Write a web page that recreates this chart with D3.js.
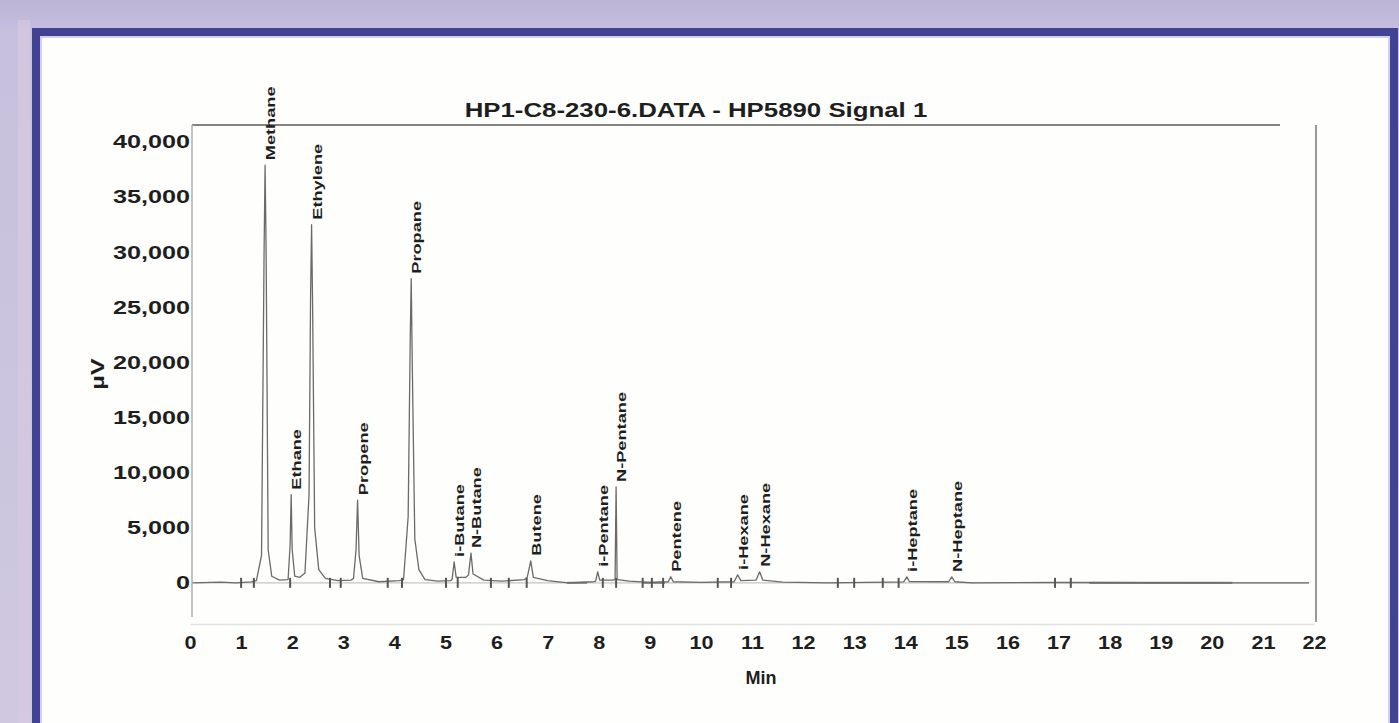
<!DOCTYPE html>
<html>
<head>
<meta charset="utf-8">
<script src="https://cdn.jsdelivr.net/npm/d3@7"></script>
<style>
  html, body { margin: 0; padding: 0; overflow: hidden; background: #c9c2dd; }
  svg { display: block; }
  text { font-family: "Liberation Sans", Arial, sans-serif; font-weight: bold; fill: #1e1e1e; }
</style>
</head>
<body>
<svg id="chart" width="1399" height="723"></svg>
<script>
// ---- chromatogram data -------------------------------------------------
const chartTitle = "HP1-C8-230-6.DATA - HP5890 Signal 1";
const xLabel = "Min";
const yLabel = "µV";

const xTickValues = [0, 1, 2, 3, 4, 5, 6, 7, 8, 9, 10, 11, 12, 13, 14, 15, 16, 17, 18, 19, 20, 21, 22];
const yTickValues = [0, 5000, 10000, 15000, 20000, 25000, 30000, 35000, 40000];

// identified peaks: name, retention time (min), apex height (µV)
const peakNames   = ["Methane", "Ethane", "Ethylene", "Propene", "Propane", "i-Butane", "N-Butane", "Butene",
                     "i-Pentane", "N-Pentane", "Pentene", "i-Hexane", "N-Hexane", "i-Heptane", "N-Heptane"];
const peakTimes   = [1.47, 1.98, 2.38, 3.28, 4.33, 5.17, 5.50, 6.67, 7.98, 8.34, 9.41, 10.72, 11.15, 14.03, 14.91];
const peakHeights = [37900, 8000, 32500, 7500, 27600, 1900, 2700, 2000, 1000, 8700, 550, 720, 1000, 540, 540];

// detector signal: [time (min), µV]
const signal = [
  [0.05, 0], [0.60, 60], [0.90, 0], [1.20, 80], [1.30, 200], [1.40, 2500], [1.45, 30000], [1.47, 37900],
  [1.49, 30000], [1.53, 3000], [1.60, 600], [1.75, 250], [1.92, 300], [1.96, 3500], [1.98, 8000],
  [2.00, 3000], [2.05, 600], [2.15, 500], [2.25, 900], [2.33, 8000], [2.36, 26000], [2.38, 32500],
  [2.40, 25000], [2.44, 5000], [2.52, 1200], [2.65, 400], [2.90, 200], [3.15, 250], [3.20, 400],
  [3.25, 3000], [3.28, 7500], [3.31, 2500], [3.38, 400], [3.70, 100], [4.10, 200], [4.18, 300],
  [4.27, 6000], [4.31, 22000], [4.33, 27600], [4.35, 20000], [4.40, 4000], [4.48, 1200], [4.60, 300],
  [4.85, 150], [5.10, 200], [5.13, 300], [5.17, 1900], [5.21, 500], [5.40, 500], [5.45, 700],
  [5.50, 2700], [5.54, 800], [5.75, 250], [6.10, 150], [6.55, 300], [6.60, 500], [6.67, 2000],
  [6.72, 500], [7.00, 200], [7.40, 0], [7.90, 100], [7.94, 150], [7.98, 1000], [8.02, 250],
  [8.28, 250], [8.32, 300], [8.34, 8700], [8.36, 300], [8.60, 150], [9.00, 50], [9.36, 100],
  [9.41, 550], [9.46, 100], [10.00, 50], [10.65, 100], [10.72, 720], [10.78, 200], [11.08, 250],
  [11.15, 1000], [11.21, 250], [11.60, 60], [12.50, 0], [13.97, 80], [14.03, 540], [14.08, 120],
  [14.85, 100], [14.91, 540], [14.97, 100], [15.30, 0], [17.00, 30], [20.50, 0], [21.90, 0]
];

// integration event marks on the baseline (min)
const eventMarks = [1.00, 1.25, 1.96, 2.74, 2.95, 3.87, 4.15, 5.01, 5.24, 5.89, 6.24, 6.59,
                    8.08, 8.34, 8.86, 9.04, 9.26, 10.33, 10.59, 12.68, 13.00, 13.56, 13.87, 16.93, 17.24];
// baseline-drawn segments (min)
const baselineRuns = [[7.38, 7.77], [8.86, 9.30], [17.6, 20.4]];

// ---- layout ---------------------------------------------------------------
const svg = d3.select("#chart");

// page backdrop and framed panel
const defs = svg.append("defs");
const bg = defs.append("linearGradient").attr("id", "bgGrad").attr("x1", 0).attr("y1", 0).attr("x2", 0).attr("y2", 1);
bg.append("stop").attr("offset", "0%").attr("stop-color", "#c7c0dc");
bg.append("stop").attr("offset", "100%").attr("stop-color", "#cfc8e0");
svg.append("rect").attr("width", 1399).attr("height", 723).attr("fill", "url(#bgGrad)");
const topBand = defs.append("linearGradient").attr("id", "topBand").attr("x1", 0).attr("y1", 0).attr("x2", 0).attr("y2", 1);
topBand.append("stop").attr("offset", "0%").attr("stop-color", "#bdb5d4");
topBand.append("stop").attr("offset", "100%").attr("stop-color", "#c3bde0");
svg.append("rect").attr("x", 0).attr("y", 0).attr("width", 1399).attr("height", 29).attr("fill", "url(#topBand)");
svg.append("rect").attr("x", 18).attr("y", 20).attr("width", 12).attr("height", 703).attr("fill", "#d6c9df").attr("opacity", 0.7);

svg.append("rect").attr("x", 32).attr("y", 28).attr("width", 1366).attr("height", 720).attr("fill", "#3f4392");
svg.append("rect").attr("x", 40).attr("y", 36).attr("width", 1350).attr("height", 700).attr("fill", "#cfd0f2");
svg.append("rect").attr("x", 42).attr("y", 38).attr("width", 1346).attr("height", 700).attr("fill", "#fefefc");

// scales
const x = d3.scaleLinear().domain([0, 22]).range([190, 1314]);
const y = d3.scaleLinear().domain([-3100, 41550]).range([617, 125]);

// stretch helper: widen text to the look of the printed report font
function widen(sel, k) {
  sel.each(function () {
    const w = this.getComputedTextLength();
    this.setAttribute("textLength", w * k);
    this.setAttribute("lengthAdjust", "spacingAndGlyphs");
  });
}

// plot frame
const frame = svg.append("g");
frame.append("line").attr("x1", 192).attr("x2", 1280).attr("y1", y(41550)).attr("y2", y(41550))
  .attr("stroke", "#5a5a5a").attr("stroke-width", 1.6);
frame.append("line").attr("x1", 192).attr("x2", 192).attr("y1", y(41550)).attr("y2", y(-3100))
  .attr("stroke", "#b4b4b4").attr("stroke-width", 1.6);
frame.append("line").attr("x1", 1316).attr("x2", 1316).attr("y1", y(41550)).attr("y2", 622)
  .attr("stroke", "#6e6e6e").attr("stroke-width", 1.4);

// y axis
const yAxis = svg.append("g").attr("transform", "translate(192,0)")
  .call(d3.axisLeft(y).tickValues(yTickValues).tickSize(0).tickPadding(2).tickFormat(d3.format(",")));
yAxis.select(".domain").remove();
yAxis.selectAll("text").style("font-size", "18px").attr("font-family", null).attr("font-size", null);
widen(yAxis.selectAll("text"), 1.4);

// x axis
const xAxis = svg.append("g").attr("transform", "translate(0,624)")
  .call(d3.axisBottom(x).tickValues(xTickValues).tickSize(0).tickPadding(12).tickFormat(d3.format("d")));
xAxis.select(".domain").attr("stroke", "#e2e2e2").attr("stroke-width", 1.5);
xAxis.selectAll("text").style("font-size", "18px").attr("font-family", null).attr("font-size", null);
widen(xAxis.selectAll("text"), 1.2);

// titles
const t = svg.append("text").attr("x", 696).attr("y", 117).attr("text-anchor", "middle")
  .style("font-size", "20px").text(chartTitle);
widen(t, 1.29);
svg.append("text").attr("x", 761).attr("y", 684).attr("text-anchor", "middle")
  .style("font-size", "18px").text(xLabel);
const yl = svg.append("text").attr("transform", "translate(104,374) rotate(-90)").attr("text-anchor", "middle")
  .style("font-size", "18px").text(yLabel);
widen(yl, 1.4);

// baseline
svg.append("line").attr("x1", x(0.1)).attr("x2", x(21.9)).attr("y1", y(0)).attr("y2", y(0))
  .attr("stroke", "#c4c4c4").attr("stroke-width", 1.2);
svg.append("g").selectAll("line").data(baselineRuns).join("line")
  .attr("x1", d => x(d[0])).attr("x2", d => x(d[1])).attr("y1", y(0)).attr("y2", y(0))
  .attr("stroke", "#8a8a8a").attr("stroke-width", 2.2);

// signal trace
const line = d3.line().x(d => x(d[0])).y(d => y(d[1]));
svg.append("path").datum(signal).attr("d", line)
  .attr("fill", "none").attr("stroke", "#6a6a6a").attr("stroke-width", 1.3).attr("stroke-linejoin", "round");

// event marks
svg.append("g").selectAll("line").data(eventMarks).join("line")
  .attr("x1", d => x(d)).attr("x2", d => x(d)).attr("y1", y(0) - 5).attr("y2", y(0) + 5)
  .attr("stroke", "#555").attr("stroke-width", 2);

// peak labels, written upward from the apex
const peaks = peakNames.map((n, i) => ({ name: n, t: peakTimes[i], h: peakHeights[i] }));
const labels = svg.append("g").selectAll("text").data(peaks).join("text")
  .attr("transform", d => `translate(${x(d.t) + 10},${y(d.h) - 5}) rotate(-90)`)
  .style("font-size", "13px").text(d => d.name);
widen(labels, 1.4);
</script>
</body>
</html>
